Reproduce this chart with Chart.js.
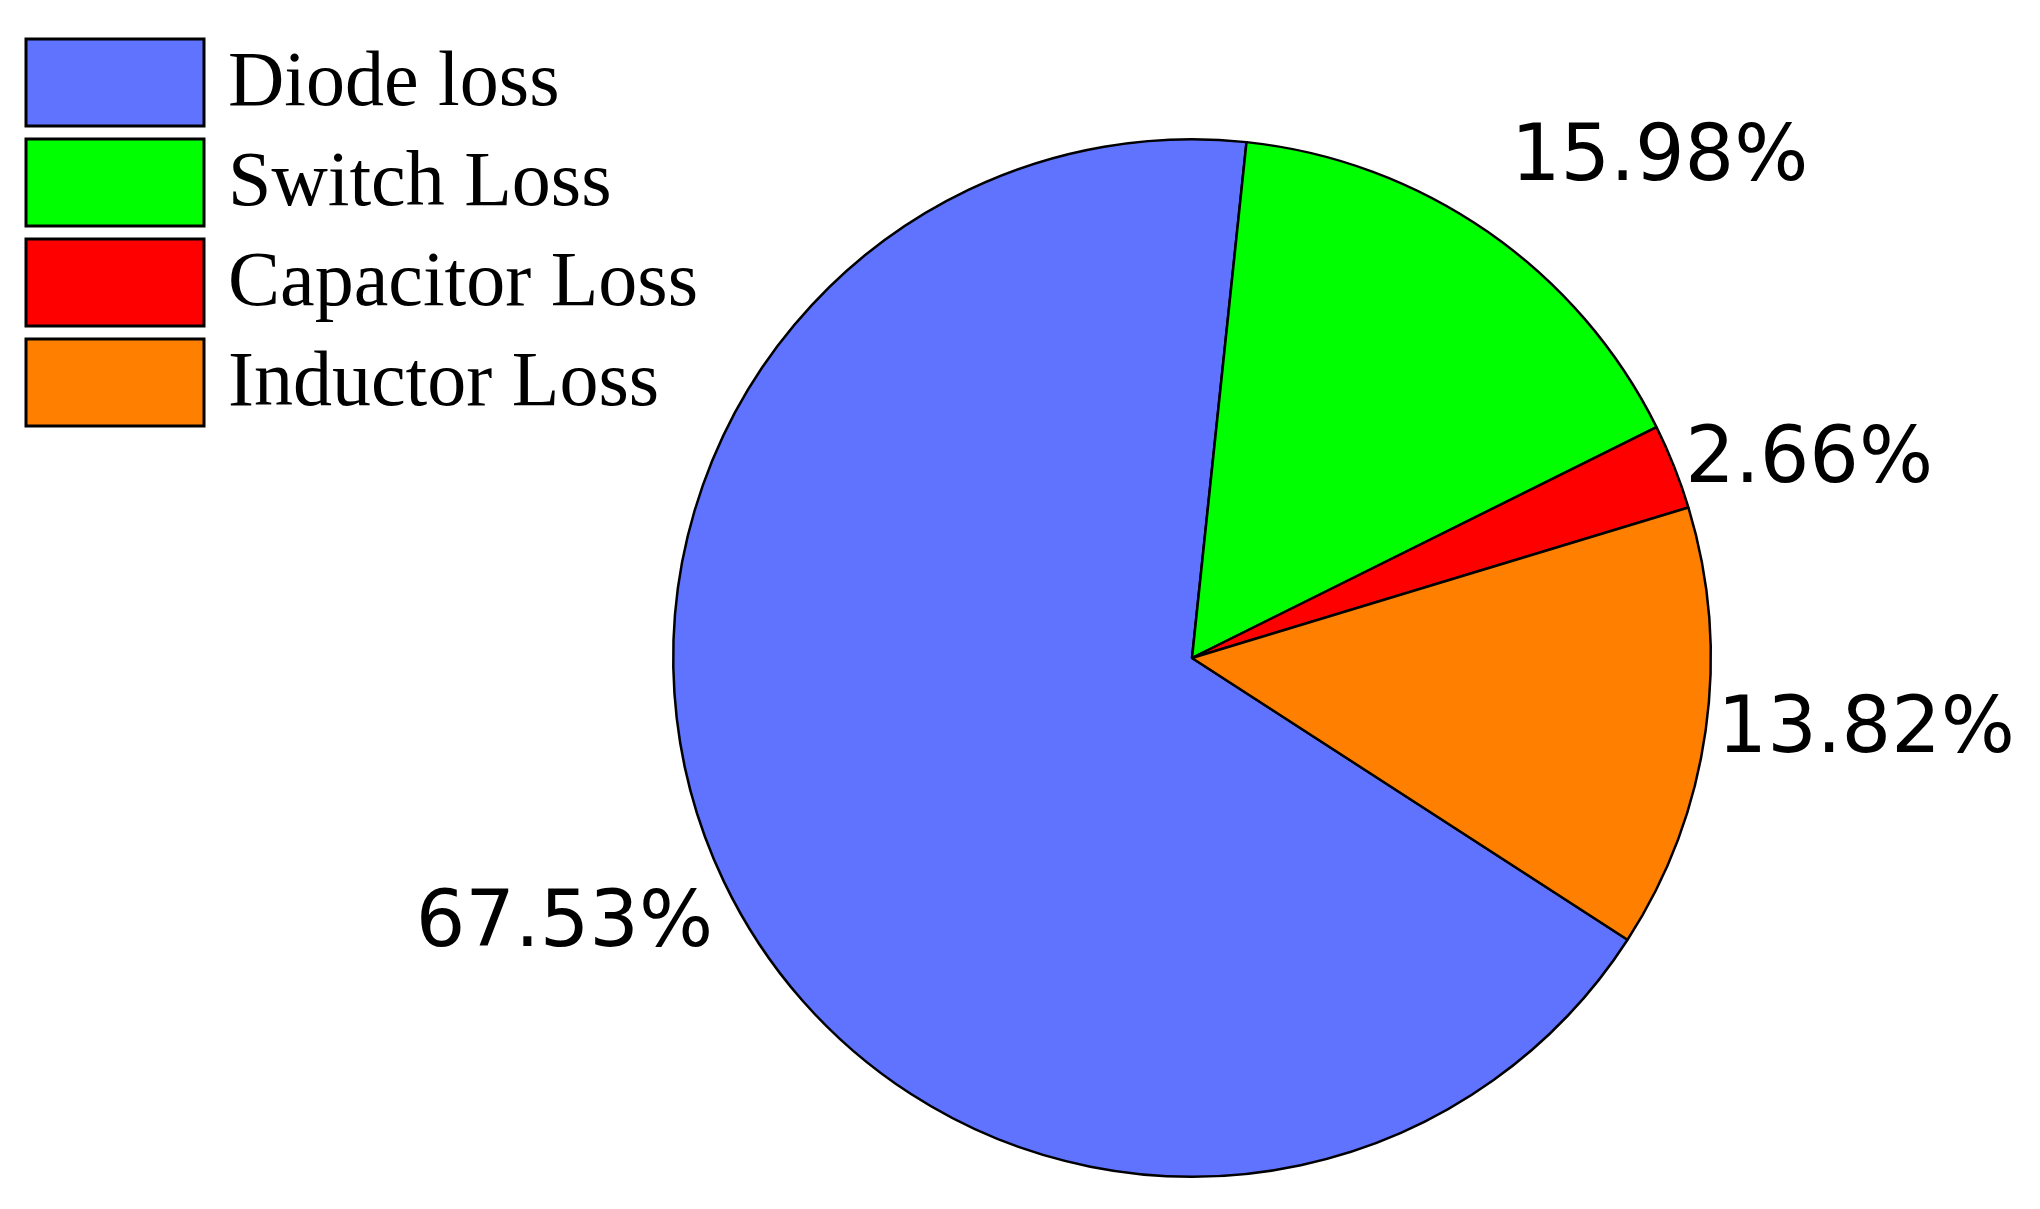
<!DOCTYPE html>
<html>
<head>
<meta charset="utf-8">
<script src="https://cdn.jsdelivr.net/npm/chart.js@4"></script>
<style>
  html, body { margin: 0; padding: 0; background: #fff; }
  #wrap { width: 2040px; height: 1209px; }
</style>
</head>
<body>
<div id="wrap"><canvas id="pie" width="2040" height="1209"></canvas></div>
<script>
// --- Data ---
const categories = ['Diode loss', 'Switch Loss', 'Capacitor Loss', 'Inductor Loss'];
const shares = [67.53, 15.98, 2.66, 13.82];
const colors = ['#5f73ff', '#00ff00', '#ff0000', '#ff8000'];

// --- Percent labels outside the slices ---
const outsideLabels = {
    id: 'outsideLabels',
    afterDatasetsDraw(chart) {
        const ctx = chart.ctx;
        const meta = chart.getDatasetMeta(0);
        ctx.save();
        ctx.font = '78px "DejaVu Sans"';
        ctx.fillStyle = '#000';
        meta.data.forEach((arc, i) => {
            const mid = (arc.startAngle + arc.endAngle) / 2;
            const s = Math.sin(mid);
            const c = Math.cos(mid);
            const r = arc.outerRadius + (s < -0.5 ? 40 : 12);
            const x = arc.x + c * r;
            const y = arc.y + s * r;
            ctx.textAlign = c > 0.3 ? 'left' : (c < -0.3 ? 'right' : 'center');
            ctx.textBaseline = s < -0.5 ? 'bottom' : (s > 0.3 ? 'top' : 'middle');
            ctx.fillText(shares[i].toFixed(2) + '%', x, y);
        });
        ctx.restore();
    }
};

// --- Boxed legend top-left ---
const boxLegend = {
    id: 'boxLegend',
    afterDraw(chart) {
        const ctx = chart.ctx;
        ctx.save();
        ctx.font = '78px "Liberation Serif"';
        ctx.textBaseline = 'middle';
        ctx.textAlign = 'left';
        categories.forEach((name, i) => {
            const y = 39 + i * 100;
            ctx.fillStyle = colors[i];
            ctx.fillRect(26, y, 178, 87);
            ctx.lineWidth = 3;
            ctx.strokeStyle = '#000';
            ctx.strokeRect(26, y, 178, 87);
            ctx.fillStyle = '#000';
            ctx.fillText(name, 228, y + 46);
        });
        ctx.restore();
    }
};

new Chart(document.getElementById('pie'), {
    type: 'pie',
    data: {
        labels: categories,
        datasets: [{
            data: shares,
            backgroundColor: colors,
            borderColor: '#000',
            borderWidth: 2.5,
            borderAlign: 'center'
        }]
    },
    options: {
        responsive: false,
        animation: false,
        rotation: 122.9,
        layout: { padding: { left: 672, right: 328, top: 138, bottom: 31 } },
        plugins: {
            legend: { display: false },
            tooltip: { enabled: false }
        }
    },
    plugins: [outsideLabels, boxLegend]
});
</script>
</body>
</html>
